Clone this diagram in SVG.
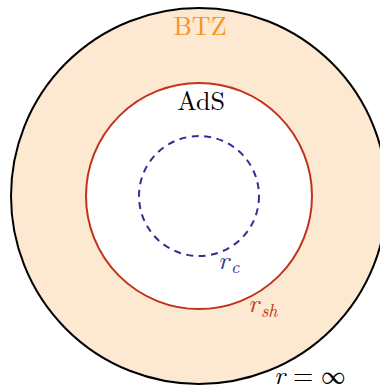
<svg xmlns="http://www.w3.org/2000/svg" width="380" height="392" viewBox="0 0 380 392">
<style>
text{font-family:"Latin Modern Roman","Times New Roman","Liberation Serif","DejaVu Serif",serif;font-size:26px}
.c{text-anchor:middle}
.it{font-style:italic}
.sub{font-style:italic;font-size:18px}
</style>
<rect width="380" height="392" fill="#ffffff"/>
<g id="btz">
<circle cx="199" cy="196" r="188" fill="#fde8d2" stroke="#000" stroke-width="2"/>
<text class="c" x="200" y="35" fill="#f7931e">BTZ</text>
</g>
<g id="ads">
<circle cx="199" cy="196" r="113" fill="#ffffff" stroke="#c1331b" stroke-width="2"/>
<text class="c" x="201" y="110" fill="#000">AdS</text>
</g>
<g id="rc">
<circle cx="199" cy="196" r="60" fill="none" stroke="#2e3192" stroke-width="2" stroke-dasharray="7,5.5"/>
<text x="218" y="269" fill="#2e3192"><tspan class="it">r</tspan><tspan class="sub" dx="2" dy="4">c</tspan></text>
</g>
<g id="rsh">
<text x="248" y="312" fill="#c1331b"><tspan class="it">r</tspan><tspan class="sub" dx="2" dy="5">sh</tspan></text>
</g>
<g id="rinf">
<text x="274" y="384" fill="#000"><tspan class="it">r</tspan><tspan dx="8">=</tspan><tspan dx="8" font-size="24" font-weight="300">∞</tspan></text>
</g>
<g id="connectors"/>
</svg>
